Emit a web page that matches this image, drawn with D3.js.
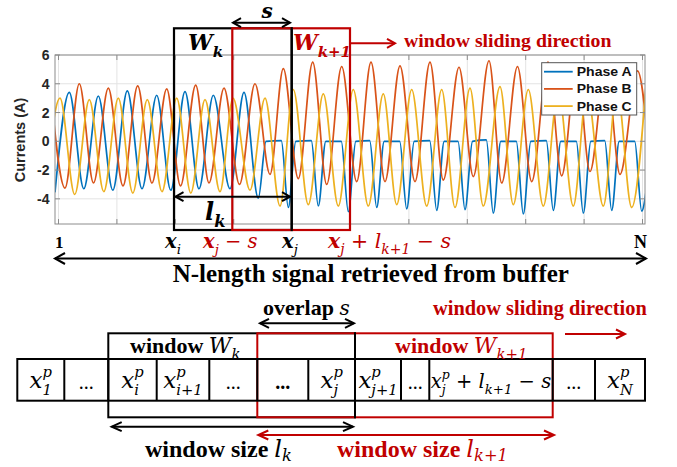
<!DOCTYPE html>
<html><head><meta charset="utf-8">
<script src="https://cdn.jsdelivr.net/npm/d3@7"></script>
<style>body{margin:0;background:#fff}svg{display:block}</style>
</head><body>
<svg id="c" width="677" height="467"></svg>
<script>
// ---------------- data ----------------
const seriesNames = ["Phase A", "Phase B", "Phase C"];
const seriesColors = ["#0072BD", "#D95319", "#EDB120"];
const yTicks = [-4, -2, 0, 2, 4, 6];
const xTicks = [3.5, 61.9, 120.3, 178.7, 237.1, 295.5, 353.9, 412.3, 470.7, 529.1, 587.5];
// [sample index, current (A)] — extrema / knee points
const phaseA = [[0,-3.55],[14.3,3.4],[28.8,-3.3],[43.3,3.15],[57.8,-3.4],[72.3,3.5],[87,-3.3],[101.7,3.2],[115.8,-3.4],[130,3.45],[144,-3.3],[158.3,3.2],[175,-3.3],[189,3.4],[203.3,-3.95],[211,0],[226.3,0.05],[233.3,-4.6],[240.8,0],[256.3,0.05],[263.3,-4.5],[270.8,0],[286.3,0],[293.3,-4.9],[300.8,0],[314.7,0.05],[321.7,-4.6],[329.2,0],[344.7,0],[351.7,-4.7],[359.2,0],[374.7,0.05],[381.7,-4.8],[389.2,0],[403,0],[410,-4.75],[417.5,0],[431.3,0.1],[438.3,-5.0],[445.8,0],[461.3,0],[468.3,-5.05],[475.8,0],[491.3,0.05],[498.3,-4.8],[505.8,0],[521.3,0],[528.3,-5.0],[535.8,0],[549.7,0.05],[556.7,-4.8],[564.2,0],[579.7,0],[586.7,-4.85],[592,-3.0]];
const phaseB = [[-4.7,3.8],[10,-3.25],[24.3,4.0],[38.5,-2.9],[53.3,3.7],[68,-3.1],[82.7,3.85],[97,-2.9],[111.7,3.65],[125.5,-3.1],[140.7,3.9],[154,-2.9],[169,3.7],[184.5,-3.0],[200,4.0],[215,-2.3],[228.3,5.05],[243.3,-2.6],[257.7,5.5],[271.7,-3.0],[286.7,5.2],[301.7,-2.8],[316,5.5],[330,-2.8],[345,5.25],[360,-2.8],[375,5.5],[388.3,-2.7],[404,5.15],[418.3,-2.45],[434,5.6],[446.7,-2.9],[462.5,5.2],[476.7,-2.8],[493,5.5],[506.7,-2.4],[521.7,5.3],[535,-2.1],[551,5.4],[565,-2.3],[582.5,4.9],[596,-2.5]];
const phaseC = [[-10,-3.5],[5,3.0],[19.7,-3.7],[34.3,2.9],[48.8,-3.5],[63.3,3.0],[77.8,-3.6],[92.3,2.9],[107,-3.5],[121.7,3.0],[135.8,-3.6],[150,2.9],[165,-3.5],[178,3.0],[195,-3.4],[210,3.0],[225,-4.5],[238.3,3.6],[253.3,-4.4],[268.3,3.3],[283.3,-4.5],[298.3,3.6],[313.3,-4.5],[328.3,3.3],[341.7,-4.4],[356.7,3.6],[371.7,-4.5],[386.7,3.6],[400,-4.6],[415,3.7],[428.3,-4.5],[445,3.8],[458.3,-4.4],[473.3,3.6],[488.3,-4.5],[503.3,3.5],[518.3,-4.5],[532,3.5],[548.3,-4.5],[562,3.6],[576.7,-4.6],[591,3.9]];
const cellLabels = ["x1","...","xi","xi+1","...","...b","xj","xj+1","...","xjl","...","xN"];

// ---------------- setup ----------------
const RED = "#C00000";
const svg = d3.select("#c");
const x = d3.scaleLinear().domain([0, 590]).range([55, 645]);
const y = d3.scaleLinear().domain([-5.75, 6]).range([224, 55]);

svg.append("defs").append("clipPath").attr("id","plotclip")
  .append("rect").attr("x",55).attr("y",55).attr("width",590).attr("height",169);

// grid
const grid = svg.append("g");
grid.selectAll(".gx").data(xTicks).join("line")
  .attr("x1", d => x(d)).attr("x2", d => x(d)).attr("y1", 55).attr("y2", 224)
  .attr("stroke", "#e3e3e3").attr("stroke-width", 1);
grid.selectAll(".gy").data(yTicks).join("line")
  .attr("x1", 55).attr("x2", 645).attr("y1", d => y(d)).attr("y2", d => y(d))
  .attr("stroke", "#e3e3e3").attr("stroke-width", 1);

// series
const line = d3.line().x(d => x(d[0])).y(d => y(d[1])).curve(d3.curveMonotoneX);
const plot = svg.append("g").attr("clip-path","url(#plotclip)");
[phaseA, phaseB, phaseC].forEach((s, i) => {
  plot.append("path").datum(s).attr("d", line).attr("fill","none")
    .attr("stroke", seriesColors[i]).attr("stroke-width", 1.7).attr("stroke-linejoin","round");
});

// axes box + ticks
const ax = svg.append("g");
ax.append("rect").attr("x",55).attr("y",55).attr("width",590).attr("height",169)
  .attr("fill","none").attr("stroke","#8c8c8c").attr("stroke-width",1);
xTicks.forEach(t => {
  ax.append("line").attr("x1",x(t)).attr("x2",x(t)).attr("y1",224).attr("y2",219).attr("stroke","#8c8c8c");
  ax.append("line").attr("x1",x(t)).attr("x2",x(t)).attr("y1",55).attr("y2",60).attr("stroke","#8c8c8c");
});
yTicks.forEach(t => {
  ax.append("line").attr("x1",55).attr("x2",60).attr("y1",y(t)).attr("y2",y(t)).attr("stroke","#8c8c8c");
  ax.append("line").attr("x1",645).attr("x2",640).attr("y1",y(t)).attr("y2",y(t)).attr("stroke","#8c8c8c");
  ax.append("text").attr("x",49.5).attr("y",y(t)+5).attr("text-anchor","end")
    .attr("font-family","Liberation Sans, Arial, sans-serif").attr("font-weight","bold")
    .attr("font-size",14).attr("fill","#262626").text(t);
});
ax.append("text").attr("transform","translate(25,140) rotate(-90)").attr("text-anchor","middle")
  .attr("font-family","Liberation Sans, Arial, sans-serif").attr("font-weight","bold")
  .attr("font-size",14.5).attr("fill","#262626").text("Currents (A)");

// legend
const lg = svg.append("g");
lg.append("rect").attr("x",541.7).attr("y",62.7).attr("width",95).attr("height",52.3)
  .attr("fill","#fff").attr("stroke","#555").attr("stroke-width",1);
seriesNames.forEach((n,i) => {
  const yy = 71.7 + i*17.2;
  lg.append("line").attr("x1",544).attr("x2",572.7).attr("y1",yy).attr("y2",yy)
    .attr("stroke",seriesColors[i]).attr("stroke-width",1.8);
  lg.append("text").attr("x",576.7).attr("y",yy+4.5)
    .attr("font-family","Liberation Sans, Arial, sans-serif").attr("font-weight","bold")
    .attr("font-size",13).attr("textLength",55).attr("lengthAdjust","spacingAndGlyphs")
    .attr("fill","#111").text(n);
});

// ---------------- helpers ----------------
function rich(g, x0, y0, parts, o) {
  const t = g.append("text").attr("x", x0).attr("y", y0)
    .attr("text-anchor", o.anchor || "start")
    .attr("font-family", o.family).attr("font-size", o.size).attr("fill", o.fill || "#000");
  if (o.weight) t.attr("font-weight", o.weight);
  if (o.style) t.attr("font-style", o.style);
  let cur = 0, pendingDx = 0;
  const sz = o.size;
  const subShift = o.subShift || 0.3;
  parts.forEach(p => {
    if (p.stack) {
      const supY = -sz*0.46, subY = sz*0.3;
      const a = t.append("tspan").text(p.sup).attr("dy", supY - cur).attr("font-size", sz*0.64);
      if (pendingDx) a.attr("dx", pendingDx);
      pendingDx = 0;
      const w1 = a.node().getComputedTextLength();
      const b = t.append("tspan").text(p.sub).attr("dy", subY - supY).attr("font-size", sz*0.64).attr("dx", -w1);
      const w2 = b.node().getComputedTextLength();
      cur = subY;
      if (w1 > w2) pendingDx = w1 - w2;
      return;
    }
    const target = p.sub ? sz*subShift : (p.sup ? -sz*0.42 : 0);
    const ts = t.append("tspan").text(p.t).attr("dy", target - cur);
    cur = target;
    if (p.sub || p.sup) ts.attr("font-size", sz*(p.scale || 0.68));
    if (p.style) ts.attr("font-style", p.style);
    if (p.weight) ts.attr("font-weight", p.weight);
    if (p.family) ts.attr("font-family", p.family);
    if (p.fs) ts.attr("font-size", p.fs);
    const dx = (p.dx || 0) + pendingDx;
    if (dx) ts.attr("dx", dx);
    pendingDx = 0;
  });
  return t;
}
function arrow(g, x1, x2, yy, color, both, hl, hw) {
  hl = hl || 8; hw = hw || 4.5;
  g.append("line").attr("x1",x1).attr("x2",x2).attr("y1",yy).attr("y2",yy)
    .attr("stroke",color).attr("stroke-width",2);
  g.append("path").attr("d",`M${x2-hl},${yy-hw}L${x2},${yy}L${x2-hl},${yy+hw}`)
    .attr("fill","none").attr("stroke",color).attr("stroke-width",2).attr("stroke-linejoin","miter");
  if (both) g.append("path").attr("d",`M${x1+hl},${yy-hw}L${x1},${yy}L${x1+hl},${yy+hw}`)
    .attr("fill","none").attr("stroke",color).attr("stroke-width",2);
}

// ---------------- top annotations ----------------
const an = svg.append("g");
const SERIF = "Liberation Serif, Times New Roman, serif";
const MATH = "DejaVu Serif, serif";
an.append("rect").attr("x",174).attr("y",28.3).attr("width",117.7).attr("height",201.7)
  .attr("fill","none").attr("stroke","#000").attr("stroke-width",2.2);
an.append("rect").attr("x",232.3).attr("y",28.3).attr("width",117.7).attr("height",201.7)
  .attr("fill","none").attr("stroke",RED).attr("stroke-width",2.2);
an.append("line").attr("x1",291.7).attr("x2",291.7).attr("y1",27.2).attr("y2",231.1)
  .attr("stroke","#000").attr("stroke-width",2.2);

rich(an, 188, 50, [{t:"W"},{t:"k",sub:true}], {family:MATH,size:22,weight:"bold",style:"italic"});
rich(an, 293, 50, [{t:"W"},{t:"k+1",sub:true}], {family:MATH,size:22,weight:"bold",style:"italic",fill:RED});
rich(an, 261.5, 17.5, [{t:"s"}], {family:MATH,size:20,weight:"bold",style:"italic"});
arrow(an, 233, 290, 22.7, "#000", true);
rich(an, 205, 220, [{t:"l"},{t:"k",sub:true}], {family:MATH,size:24,weight:"bold",style:"italic"});
arrow(an, 175.5, 290, 196.7, "#000", true);
arrow(an, 350, 395, 43.3, RED, false);
an.append("text").attr("x",404).attr("y",47).attr("font-family",SERIF).attr("font-weight","bold")
  .attr("font-size",19.8).attr("fill",RED).text("window sliding direction");

// position labels
const pl = svg.append("g");
pl.append("text").attr("x",55).attr("y",247.7).attr("font-family",SERIF).attr("font-weight","bold")
  .attr("font-size",17).text("1");
pl.append("text").attr("x",634).attr("y",247.5).attr("font-family",SERIF).attr("font-weight","bold")
  .attr("font-size",18).text("N");
const mo = {family:MATH,size:19.5,style:"italic"};
rich(pl, 165, 247.7, [{t:"x",weight:"bold"},{t:"i",sub:true}], mo);
rich(pl, 203, 247.7, [{t:"x",weight:"bold"},{t:"j",sub:true},{t:" − ",style:"normal"},{t:"s"}], Object.assign({},mo,{fill:RED}));
rich(pl, 282, 247.7, [{t:"x",weight:"bold"},{t:"j",sub:true}], mo);
rich(pl, 328, 247.7, [{t:"x",weight:"bold"},{t:"j",sub:true},{t:" + ",style:"normal"},{t:"l"},{t:"k+1",sub:true},{t:" − ",style:"normal"},{t:"s"}], Object.assign({},mo,{fill:RED,size:20.5}));
arrow(pl, 55, 646, 258.5, "#000", true, 10, 5.5);
pl.append("text").attr("x",172.7).attr("y",281.7).attr("font-family",SERIF).attr("font-weight","bold")
  .attr("font-size",25).text("N-length signal retrieved from buffer");

// ---------------- lower diagram ----------------
const ld = svg.append("g");
const cellX = [17.3, 64.3, 108.3, 156.7, 209.3, 257.3, 308.3, 355, 401, 429.3, 552.7, 595, 645];
ld.append("rect").attr("x",108.3).attr("y",333.3).attr("width",246.7).attr("height",84)
  .attr("fill","none").attr("stroke","#000").attr("stroke-width",2);
ld.append("rect").attr("x",257.3).attr("y",333.3).attr("width",295.4).attr("height",84)
  .attr("fill","none").attr("stroke",RED).attr("stroke-width",2);
ld.append("line").attr("x1",355).attr("x2",355).attr("y1",332.3).attr("y2",418.3)
  .attr("stroke","#000").attr("stroke-width",2);
ld.append("rect").attr("x",cellX[0]).attr("y",359).attr("width",cellX[12]-cellX[0]).attr("height",41.7)
  .attr("fill","none").attr("stroke","#000").attr("stroke-width",2);
ld.selectAll(".cb").data(cellX.slice(1,-1)).join("line")
  .attr("x1",d=>d).attr("x2",d=>d).attr("y1",359).attr("y2",400.7)
  .attr("stroke","#000").attr("stroke-width",2);

const CM = "DejaVu Serif, serif";
const cellParts = {
  "x1":   [{t:"x"},{stack:true,sup:"p",sub:"1"}],
  "xi":   [{t:"x"},{stack:true,sup:"p",sub:"i"}],
  "xi+1": [{t:"x"},{stack:true,sup:"p",sub:"i+1"}],
  "xj":   [{t:"x"},{stack:true,sup:"p",sub:"j"}],
  "xj+1": [{t:"x"},{stack:true,sup:"p",sub:"j+1"}],
  "xjl":  [{t:"x"},{stack:true,sup:"p",sub:"j"},{t:" + ",style:"normal"},{t:"l"},{t:"k+1",sub:true},{t:" − ",style:"normal"},{t:"s"}],
  "xN":   [{t:"x"},{stack:true,sup:"p",sub:"N"}]
};
cellLabels.forEach((c, i) => {
  const cx = (cellX[i] + cellX[i+1]) / 2;
  if (c.startsWith("...")) {
    ld.append("text").attr("x",cx).attr("y",389).attr("text-anchor","middle")
      .attr("font-family",SERIF).attr("font-size",20).attr("font-weight", c === "...b" ? "bold" : "normal")
      .text("...");
  } else {
    const sz = c === "xjl" ? 19.5 : 23;
    rich(ld, cx, 388, cellParts[c], {family:CM,size:sz,style:"italic",anchor:"middle"});
  }
});

rich(ld, 263, 315, [{t:"overlap ",weight:"bold",family:SERIF},{t:"s",style:"italic",family:CM,fs:20}], {family:SERIF,size:22});
arrow(ld, 260, 354, 323.3, "#000", true, 9, 4.5);
ld.append("text").attr("x",433).attr("y",315).attr("font-family",SERIF).attr("font-weight","bold")
  .attr("font-size",20.4).attr("fill",RED).text("window sliding direction");
arrow(ld, 565, 625, 334, RED, false, 9, 4.5);

rich(ld, 130, 353, [{t:"window ",weight:"bold"},{t:"W",style:"italic",family:CM,fs:22},{t:"k",sub:true,style:"italic",family:CM}], {family:SERIF,size:22,subShift:0.25});
rich(ld, 395, 353, [{t:"window ",weight:"bold"},{t:"W",style:"italic",family:CM,fs:22},{t:"k+1",sub:true,style:"italic",family:CM}], {family:SERIF,size:22,fill:RED,subShift:0.25});

arrow(ld, 111.7, 353, 426.7, "#000", true, 10, 4.5);
arrow(ld, 258.3, 554, 435, RED, true, 10, 4.5);
rich(ld, 145, 456.5, [{t:"window size ",weight:"bold"},{t:"l",style:"italic",family:CM,fs:24},{t:"k",sub:true,style:"italic",family:CM}], {family:SERIF,size:24,subShift:0.2});
rich(ld, 337, 456.5, [{t:"window size ",weight:"bold"},{t:"l",style:"italic",family:CM,fs:24},{t:"k+1",sub:true,style:"italic",family:CM}], {family:SERIF,size:24,fill:RED,subShift:0.2});
</script>
</body></html>
